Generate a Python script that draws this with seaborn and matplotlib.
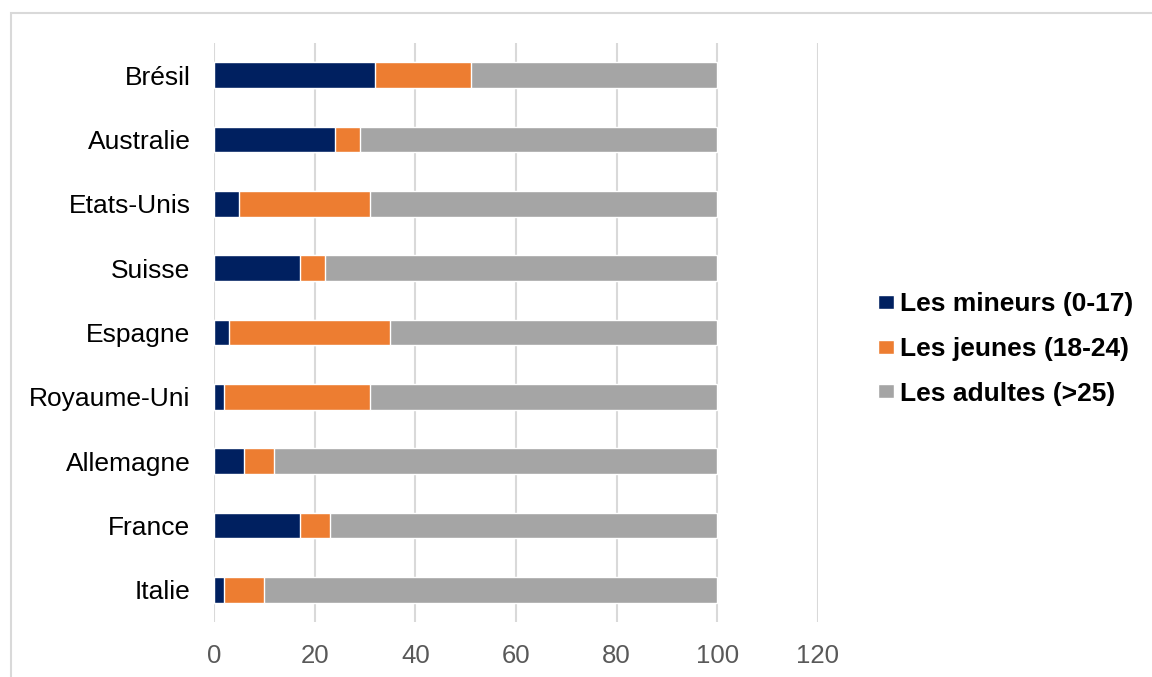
import pandas as pd
import matplotlib.pyplot as plt
import seaborn as sns

# Data (percent of each age group)
countries = ["Brésil", "Australie", "Etats-Unis", "Suisse", "Espagne",
             "Royaume-Uni", "Allemagne", "France", "Italie"]
mineurs = [32, 24, 5, 17, 3, 2, 6, 17, 2]
jeunes = [19, 5, 26, 5, 32, 29, 6, 6, 8]
adultes = [100 - m - j for m, j in zip(mineurs, jeunes)]

labels = ["Les mineurs (0-17)", "Les jeunes (18-24)", "Les adultes (>25)"]
colors = ["#002060", "#ED7D31", "#A5A5A5"]


def build_frame():
    df = pd.DataFrame({"pays": countries, "mineurs": mineurs,
                       "jeunes": jeunes, "adultes": adultes})
    df["c1"] = df["mineurs"]
    df["c2"] = df["mineurs"] + df["jeunes"]
    df["c3"] = df["c2"] + df["adultes"]
    return df


def make_chart(df):
    sns.set_style("white")
    plt.rcParams["font.family"] = ["Liberation Sans", "DejaVu Sans"]

    fig = plt.figure(figsize=(11.52, 6.77), dpi=100)
    ax = fig.add_axes([214 / 1152, 1 - 622 / 677, (818 - 214) / 1152, (622 - 43) / 677])

    # stacked horizontal bars: draw cumulative totals, largest first
    for col, color, lab in zip(["c3", "c2", "c1"], colors[::-1], labels[::-1]):
        sns.barplot(data=df, x=col, y="pays", color=color, width=0.4,
                    orient="h", ax=ax, label=lab, saturation=1, zorder=3)

    ax.set_xlim(0, 120)
    ax.set_ylim(8.5, -0.5)
    ax.set_xticks(range(0, 121, 20))
    ax.grid(axis="x", color="#D9D9D9", linewidth=1.5, zorder=0)
    ax.set_axisbelow(True)
    for s in ax.spines.values():
        s.set_visible(False)
    ax.set_xlabel("")
    ax.set_ylabel("")
    ax.tick_params(axis="x", labelsize=18.5, labelcolor="#595959", length=0, pad=16)
    ax.tick_params(axis="y", labelsize=19, labelcolor="black", length=0, pad=17)

    handles, labs = ax.get_legend_handles_labels()
    order = [labs.index(l) for l in labels]
    fig.legend([handles[i] for i in order], labels, loc="center left",
               bbox_to_anchor=(854 / 1152, 1 - 349 / 677), frameon=False,
               prop={"size": 19, "weight": "bold"}, labelcolor="black",
               handlelength=0.6, handleheight=0.45, handletextpad=0.25,
               labelspacing=0.78)
    if ax.get_legend():
        ax.get_legend().remove()

    border = plt.Rectangle((11 / 1152, -0.05), 1.2, 1.05 - 13 / 677,
                           transform=fig.transFigure, fill=False,
                           edgecolor="#D9D9D9", linewidth=1.5)
    fig.patches.append(border)

    fig.savefig("out.png", dpi=100)


if __name__ == "__main__":
    data = build_frame()
    make_chart(data)
